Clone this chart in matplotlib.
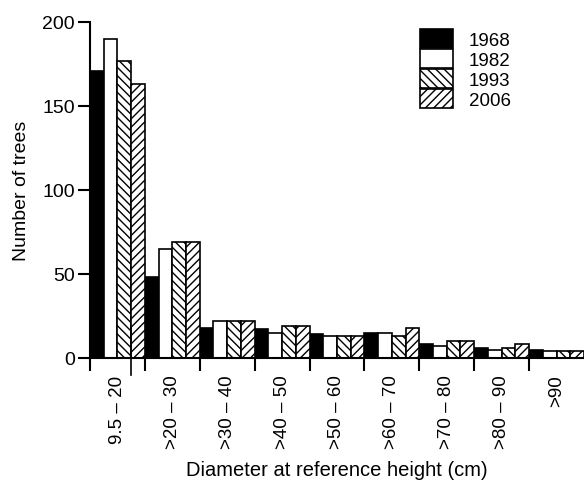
import matplotlib
matplotlib.use("Agg")
import matplotlib.pyplot as plt
import matplotlib.transforms as mtransforms
import numpy as np

plt.rcParams['font.family'] = ['Liberation Sans', 'DejaVu Sans']
plt.rcParams['hatch.linewidth'] = 1.0

classes = ['9.5 \u2013 20', '>20 \u2013 30', '>30 \u2013 40', '>40 \u2013 50', '>50 \u2013 60',
           '>60 \u2013 70', '>70 \u2013 80', '>80 \u2013 90', '>90']
years = ['1968', '1982', '1993', '2006']
trees_1968 = [171, 48, 18, 17, 14, 15, 8, 6, 5]
trees_1982 = [190, 65, 22, 15, 13, 15, 7, 5, 4]
trees_1993 = [177, 69, 22, 19, 13, 13, 10, 6, 4]
trees_2006 = [163, 69, 22, 19, 13, 18, 10, 8, 4]

series = [trees_1968, trees_1982, trees_1993, trees_2006]
faces = ['black', 'white', 'white', 'white']
hatches = [None, None, '\\\\\\\\', '////']

fig = plt.figure(figsize=(5.84, 4.85), dpi=100)
ax = fig.add_axes([0.154, 0.26, 0.846, 0.6926])

x = np.arange(len(classes))
w = 0.25
handles = []
for i, vals in enumerate(series):
    b = ax.bar(x + (i - 1.5) * w, vals, w, color=faces[i], edgecolor='black',
               linewidth=1.2, hatch=hatches[i], label=years[i])
    handles.append(b)

ax.set_xlim(-0.5, len(classes) - 0.5)
ax.set_ylim(0, 200)
ax.set_yticks([0, 50, 100, 150, 200])

# group boundaries as ticks, class labels centered in each group
ax.set_xticks(x - 0.5)
ax.set_xticklabels([''] * len(x))
ax.set_xticks(x, minor=True)
ax.set_xticklabels(classes, minor=True, rotation=90, va='top', ha='center', fontsize=13.5)
ax.tick_params(axis='x', which='major', direction='out', length=9, width=1.5)
ax.tick_params(axis='x', which='minor', length=0, pad=12)
ax.tick_params(axis='y', direction='out', length=9, width=1.5, labelsize=14, pad=2)

# stray long tick seen in the original scan
trans = mtransforms.blended_transform_factory(ax.transData, ax.transAxes)
ax.plot([0.25, 0.25], [0.09, -0.05], color='black', lw=1.2, transform=trans, clip_on=False)

for s in ['top', 'right']:
    ax.spines[s].set_visible(False)
ax.spines['left'].set_linewidth(1.5)
ax.spines['bottom'].set_linewidth(1.5)

ax.set_ylabel('Number of trees', fontsize=14, labelpad=9)
ax.set_xlabel('Diameter at reference height (cm)', fontsize=14.5, labelpad=8)

ax.legend(handles=handles, loc='upper left', bbox_to_anchor=(420 / 584, 1 - 30 / 485),
          bbox_transform=fig.transFigure, frameon=False, fontsize=13.5,
          handlelength=1.75, handleheight=1.2, labelspacing=0.0, handletextpad=0.85,
          borderpad=0, borderaxespad=0)

fig.savefig('out.png', dpi=100)
